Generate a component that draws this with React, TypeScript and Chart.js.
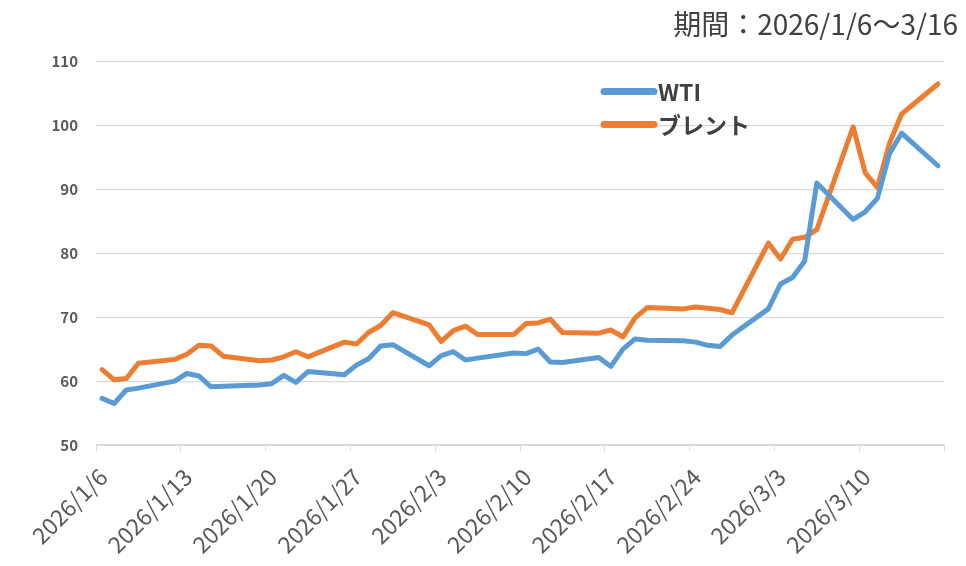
import React, { useEffect, useRef } from 'react';
import { Chart, registerables } from 'chart.js';

Chart.register(...registerables);

const TITLE = '期間：2026/1/6～3/16';
const START_DATE = '2026/1/6';
const END_DATE = '2026/3/16';
const SERIES_LABELS = ['WTI', 'ブレント'];
const SERIES_COLORS = ['#5B9BD5', '#ED7D31'];

const DATES = [
  '2026/1/6', '2026/1/7', '2026/1/8', '2026/1/9', '2026/1/12', '2026/1/13', '2026/1/14', '2026/1/15', '2026/1/16',
  '2026/1/19', '2026/1/20', '2026/1/21', '2026/1/22', '2026/1/23', '2026/1/26', '2026/1/27', '2026/1/28', '2026/1/29',
  '2026/1/30', '2026/2/2', '2026/2/3', '2026/2/4', '2026/2/5', '2026/2/6', '2026/2/9', '2026/2/10', '2026/2/11',
  '2026/2/12', '2026/2/13', '2026/2/16', '2026/2/17', '2026/2/18', '2026/2/19', '2026/2/20', '2026/2/23', '2026/2/24',
  '2026/2/25', '2026/2/26', '2026/2/27', '2026/3/2', '2026/3/3', '2026/3/4', '2026/3/5', '2026/3/6', '2026/3/9',
  '2026/3/10', '2026/3/11', '2026/3/12', '2026/3/13', '2026/3/16',
];

const WTI = [
  57.3, 56.5, 58.6, 58.9, 60.0, 61.2, 60.8, 59.1, 59.2,
  59.4, 59.6, 60.9, 59.8, 61.5, 61.0, 62.5, 63.5, 65.5,
  65.7, 62.4, 64.0, 64.6, 63.3, 63.6, 64.4, 64.3, 65.0,
  63.0, 62.9, 63.7, 62.3, 65.0, 66.6, 66.4, 66.3, 66.1,
  65.6, 65.4, 67.2, 71.3, 75.2, 76.2, 78.8, 91.0, 85.3,
  86.5, 88.6, 95.6, 98.8, 93.7,
];

const BRENT = [
  61.8, 60.2, 60.4, 62.8, 63.4, 64.2, 65.6, 65.5, 63.9,
  63.2, 63.3, 63.8, 64.6, 63.8, 66.1, 65.8, 67.6, 68.7,
  70.7, 68.8, 66.2, 67.9, 68.6, 67.3, 67.3, 69.0, 69.1,
  69.7, 67.6, 67.5, 68.0, 66.9, 69.9, 71.5, 71.3, 71.6,
  71.4, 71.2, 70.7, 81.6, 79.1, 82.2, 82.5, 83.7, 99.8,
  92.6, 90.3, 97.2, 101.8, 106.5,
];

const X_TICK_LABELS = [
  '2026/1/6', '2026/1/13', '2026/1/20', '2026/1/27', '2026/2/3',
  '2026/2/10', '2026/2/17', '2026/2/24', '2026/3/3', '2026/3/10',
];

const Y_TICKS = [50, 60, 70, 80, 90, 100, 110];

function dayIndex(s: string): number {
  const [y, m, d] = s.split('/').map(Number);
  const [y0, m0, d0] = START_DATE.split('/').map(Number);
  return Math.round((Date.UTC(y, m - 1, d) - Date.UTC(y0, m0 - 1, d0)) / 86400000);
}

const insideLegend = {
  id: 'insideLegend',
  afterDatasetsDraw(chart: any) {
    const { ctx, chartArea } = chart;
    const x0 = chartArea.left + 504;
    const y0 = chartArea.top + 30;
    chart.data.datasets.forEach((ds: any, i: number) => {
      const y = y0 + i * 33;
      ctx.save();
      ctx.strokeStyle = ds.borderColor;
      ctx.lineWidth = 7;
      ctx.lineCap = 'round';
      ctx.beginPath();
      ctx.moveTo(x0 + 4, y);
      ctx.lineTo(x0 + 54, y);
      ctx.stroke();
      ctx.fillStyle = '#404040';
      ctx.font = 'bold 23px "Noto Sans CJK JP"';
      ctx.textBaseline = 'middle';
      ctx.textAlign = 'left';
      ctx.fillText(ds.label, x0 + 58, y + 1);
      ctx.restore();
    });
  },
};

export default function App() {
  const ref = useRef<HTMLCanvasElement | null>(null);

  useEffect(() => {
    if (!ref.current) return;
    const startIdx = dayIndex(START_DATE);
    const endIdx = dayIndex(END_DATE);
    const tickValues = [...X_TICK_LABELS.map((l) => dayIndex(l) - 0.5), endIdx + 0.5];

    const chart = new Chart(ref.current, {
      type: 'line',
      data: {
        datasets: [WTI, BRENT].map((vals, si) => ({
          label: SERIES_LABELS[si],
          data: DATES.map((d, i) => ({ x: dayIndex(d), y: vals[i] })),
          borderColor: SERIES_COLORS[si],
          backgroundColor: SERIES_COLORS[si],
          borderWidth: 5,
          pointRadius: 0,
          tension: 0,
          borderJoinStyle: 'round',
          borderCapStyle: 'round',
        })),
      },
      options: {
        animation: false,
        responsive: true,
        maintainAspectRatio: false,
        layout: { padding: { left: 0, right: 0, top: 0, bottom: 0 } },
        plugins: {
          legend: { display: false },
          tooltip: { enabled: false },
          title: {
            display: true,
            text: TITLE,
            align: 'end',
            color: '#404040',
            font: { family: '"Noto Sans CJK JP"', size: 28, weight: 'normal' },
            padding: { top: 0, bottom: 20 },
          },
        },
        scales: {
          x: {
            type: 'linear',
            min: startIdx - 0.5,
            max: endIdx + 0.5,
            afterBuildTicks: (s: any) => {
              s.ticks = tickValues.map((v) => ({ value: v }));
            },
            afterFit: (s: any) => {
              s.height = 113;
              s.paddingRight = 14;
            },
            ticks: {
              autoSkip: false,
              maxRotation: 45,
              minRotation: 45,
              labelOffset: 7,
              padding: 12,
              color: '#595959',
              font: { family: '"Noto Sans CJK JP"', size: 23 },
              callback: (_v: any, i: number) => X_TICK_LABELS[i] ?? '',
            },
            grid: { drawOnChartArea: false, drawTicks: true, tickLength: 6, color: '#D9D9D9' },
            border: { display: true, color: '#D9D9D9' },
          },
          y: {
            min: Y_TICKS[0],
            max: Y_TICKS[Y_TICKS.length - 1],
            afterBuildTicks: (s: any) => {
              s.ticks = Y_TICKS.map((v) => ({ value: v }));
            },
            afterFit: (s: any) => {
              s.width = 88;
            },
            ticks: {
              padding: 18,
              color: '#595959',
              font: { family: '"Noto Sans CJK JP"', size: 15, weight: 'bold' },
            },
            grid: { color: '#D9D9D9', lineWidth: 1.2, drawTicks: false },
            border: { display: false },
          },
        },
      },
      plugins: [insideLegend],
    } as any);
    return () => chart.destroy();
  }, []);

  return (
    <div style={{ width: 950, height: 550, position: 'relative' }}>
      <canvas ref={ref} />
    </div>
  );
}
